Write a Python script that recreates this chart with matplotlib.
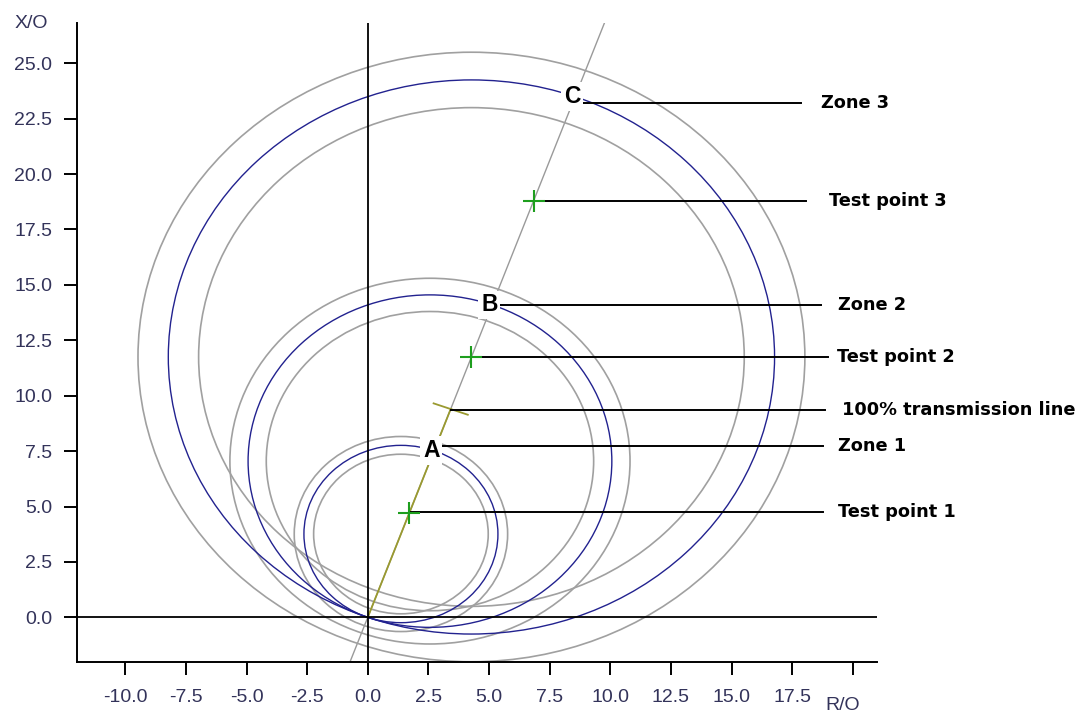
import numpy as np
import matplotlib.pyplot as plt
from matplotlib.patches import Circle

# line impedance angle and reaches (ohms)
line_angle = 70.0
line_reach = 10.0
zone_names = ['A', 'B', 'C']
zone_reach = [8.0, 15.0, 25.0]
tolerance = 0.10
test_reach = [5.0, 12.5, 20.0]

# callouts on the right: text, y of leader, leader end x, text x
callout_text = ['Zone 3', 'Test point 3', 'Zone 2', 'Test point 2',
                '100% transmission line', 'Zone 1', 'Test point 1']
callout_from = [25.0, 20.0, 15.0, 12.5, 10.0, 8.0, 5.0]
callout_y = [23.21, 18.8, 14.08, 11.75, 9.36, 7.73, 4.75]
callout_end = [17.88, 18.09, 18.71, 18.97, 18.84, 18.76, 18.76]
callout_tx = [18.71, 19.0, 19.41, 19.37, 19.54, 19.41, 19.41]

xticks = np.arange(-10, 20.1, 2.5)
yticks = np.arange(0, 25.1, 2.5)

ang = np.deg2rad(line_angle)


def polar(r):
    return r * np.cos(ang), r * np.sin(ang)


fig = plt.figure(figsize=(10.81, 7.13), dpi=100)
ax = fig.add_axes([0.0710, 0.0720, 0.7403, 0.8953])
ax.set_xlim(-12, 21)
ax.set_ylim(-2, 26.8)

for s in ['top', 'right']:
    ax.spines[s].set_visible(False)
for s in ['left', 'bottom']:
    ax.spines[s].set_linewidth(1.4)

# characteristic angle line and the protected line itself
ax.axline((0, 0), polar(1.0), color='#9a9a9a', lw=1.0, zorder=2)
lx, ly = polar(line_reach)
ax.plot([0, lx], [0, ly], color='#9a9a30', lw=1.3, zorder=3)
perp = np.array([np.sin(ang), -np.cos(ang)]) * 0.75
ax.plot([lx - perp[0], lx + perp[0]], [ly - perp[1], ly + perp[1]],
        color='#9a9a30', lw=1.3, zorder=3)

# mho circles with tolerance bands
for r in zone_reach:
    c = polar(r / 2)
    ax.add_patch(Circle(c, r / 2, fill=False, ec='#22228f', lw=1.0, zorder=3))
    for k in (1 - tolerance, 1 + tolerance):
        ax.add_patch(Circle(c, r / 2 * k, fill=False, ec='#a0a0a0', lw=1.2, zorder=2))

ax.axhline(0, color='black', lw=1.3, zorder=4)
ax.axvline(0, color='black', lw=1.3, zorder=4)

# test points
tx = [polar(r)[0] for r in test_reach]
ty = [polar(r)[1] for r in test_reach]
ax.plot(tx, ty, '+', color='#1e9e1e', ms=16, mew=1.5, zorder=6)

# leaders and callout text
for t, r, y, xe, xt in zip(callout_text, callout_from, callout_y, callout_end, callout_tx):
    x0 = polar(r)[0]
    ax.plot([x0, xe], [y, y], color='black', lw=1.4, zorder=5, clip_on=False)
    ax.text(xt, y, t, fontsize=12.8, fontweight='bold', family='DejaVu Sans',
            ha='left', va='center', clip_on=False)

for n, r in zip(zone_names, zone_reach):
    ax.annotate(n, xy=polar(r), xytext=(-2, 0), textcoords='offset points',
                ha='center', va='center', fontsize=16.5, fontweight='bold',
                family='Liberation Sans', zorder=7,
                bbox=dict(boxstyle='square,pad=0.12', fc='white', ec='none'))

ax.set_xticks(xticks)
ax.set_xticklabels([f'{v:.1f}' for v in xticks[:-1]] + [''])
ax.set_yticks(yticks)
ax.set_yticklabels([f'{v:.1f}' for v in yticks])
ax.tick_params(length=9.5, width=1.4, labelsize=14, labelcolor='#33335a')
ax.tick_params(axis='x', pad=10)
ax.tick_params(axis='y', pad=8)
for lab in ax.get_xticklabels() + ax.get_yticklabels():
    lab.set_family('Liberation Sans')

fig.text(0.7798, 0.0112, 'R/O', ha='center', va='center', fontsize=14,
         color='#33335a', family='Liberation Sans')
fig.text(0.0287, 0.9677, 'X/O', ha='center', va='center', fontsize=14,
         color='#33335a', family='Liberation Sans')

fig.savefig('out.png', dpi=100)
